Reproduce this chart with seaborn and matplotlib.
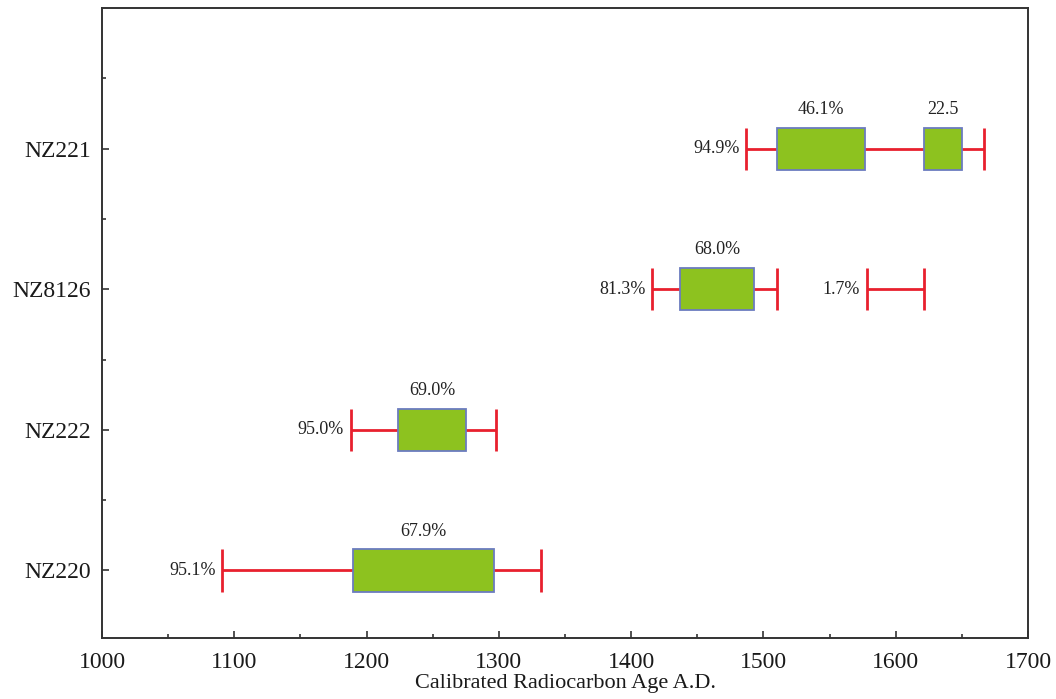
import matplotlib
matplotlib.use('Agg')
import matplotlib.pyplot as plt
import seaborn as sns
from matplotlib.ticker import MultipleLocator, FixedLocator

# calibrated ranges (years A.D.)
samples = ['NZ220', 'NZ222', 'NZ8126', 'NZ221']
range95 = [[(1091, 1332)], [(1188, 1298)], [(1416, 1510), (1578, 1621)], [(1487, 1667)]]
range95_pct = [['95.1%'], ['95.0%'], ['81.3%', '1.7%'], ['94.9%']]
range68 = [[(1190, 1296)], [(1224, 1275)], [(1437, 1493)], [(1510, 1577), (1621, 1650)]]
range68_pct = [['67.9%'], ['69.0%'], ['68.0%'], ['46.1%', '22.5']]

sns.set_style('ticks')
plt.rcParams['font.family'] = ['Liberation Serif', 'DejaVu Serif']

fig = plt.figure(figsize=(10.56, 6.99), dpi=100)
ax = fig.add_axes([0.0966, 0.0873, 0.8769, 0.9013])

red = '#e8202e'
green = '#8dc21f'
edge = '#6b7cbf'
h = 0.30

for i, s in enumerate(samples):
    # 95% ranges: whisker with caps
    for (lo, hi), pct in zip(range95[i], range95_pct[i]):
        ax.hlines(i, lo, hi, color=red, lw=2, zorder=2)
        ax.vlines([lo, hi], i - h / 2, i + h / 2, color=red, lw=2, zorder=2)
        ax.annotate(pct, (lo, i), xytext=(-5, 0), textcoords='offset points',
                    ha='right', va='center', fontsize=13, color='#222222')
    # 68% ranges: green boxes
    for (lo, hi), pct in zip(range68[i], range68_pct[i]):
        ax.barh(i, hi - lo, left=lo, height=h, color=green, edgecolor=edge,
                linewidth=1.3, zorder=3)
        ax.annotate(pct, ((lo + hi) / 2, i + h / 2), xytext=(0, 7), textcoords='offset points',
                    ha='center', va='bottom', fontsize=13, color='#222222')

ax.set_xlim(1000, 1700)
ax.set_ylim(-0.48, 4.0)
ax.set_yticks(range(len(samples)))
ax.set_yticklabels(samples)
ax.yaxis.set_minor_locator(FixedLocator([0.5, 1.5, 2.5, 3.5]))
ax.xaxis.set_major_locator(MultipleLocator(100))
ax.xaxis.set_minor_locator(MultipleLocator(50))
ax.tick_params(which='both', direction='in', colors='#333333', labelcolor='#1a1a1a')
ax.tick_params(which='major', length=5, width=1.2, labelsize=17)
ax.tick_params(which='minor', length=3, width=1.2)
ax.tick_params(axis='y', pad=8)
ax.tick_params(axis='x', pad=10)
for sp in ax.spines.values():
    sp.set_color('#333333')
    sp.set_linewidth(1.4)
ax.set_xlabel('Calibrated Radiocarbon Age A.D.', fontsize=16, labelpad=1, color='#1a1a1a')

fig.savefig('out.png', dpi=100)
